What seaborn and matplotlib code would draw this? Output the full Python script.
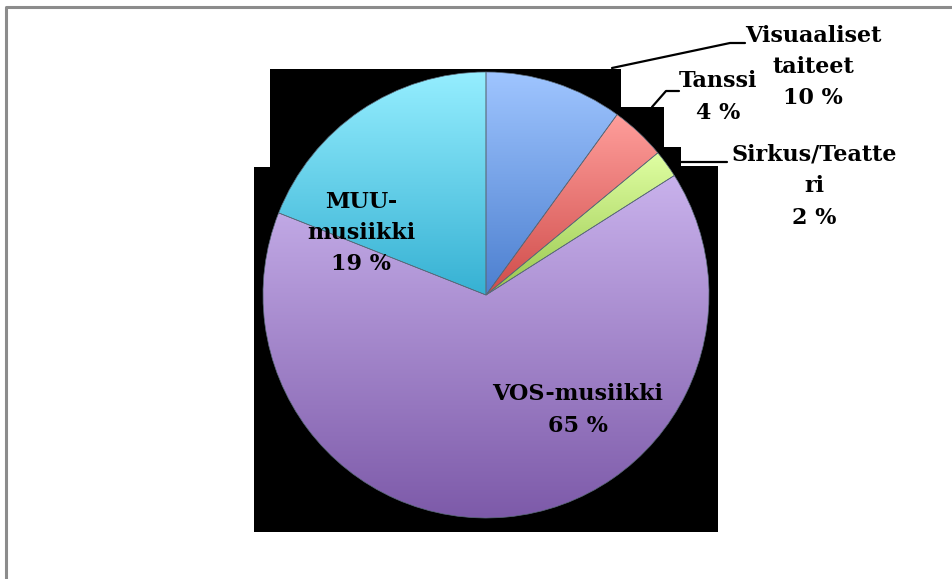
import matplotlib
matplotlib.use("Agg")
import matplotlib.pyplot as plt
import seaborn as sns
import numpy as np

# data
categories = ["Visuaaliset taiteet", "Tanssi", "Sirkus/Teatteri", "VOS-musiikki", "MUU-musiikki"]
shares = [10, 4, 2, 65, 19]
label_texts = ["Visuaaliset\ntaiteet\n10 %", "Tanssi\n4 %", "Sirkus/Teatte\nri\n2 %",
               "VOS-musiikki\n65 %", "MUU-\nmusiikki\n19 %"]
# gradient colours for each slice (top, bottom)
top_colors = ["#9fc5ff", "#ff9e9b", "#e0ffa3", "#c9b2ec", "#95eeff"]
bottom_colors = ["#4c7fcf", "#cf4c4a", "#98c64d", "#7d5aa9", "#36b1d3"]

sns.set_theme(style="white")
plt.rcParams["font.family"] = ["DejaVu Serif", "DejaVu Sans"]

W, H = 953, 579
fig = plt.figure(figsize=(W / 100, H / 100), dpi=100)
ax = fig.add_axes([0, 0, 1, 1])


def fy(y):
    # image row -> matplotlib y
    return H - y


# frame of the chart area (only left and top are visible)
ax.plot([6, 6, W], [0, fy(7), fy(7)], color="#8c8c8c", lw=2.2, solid_capstyle="butt", zorder=1)

# black backdrop behind the pie
back = [(270, 69), (621, 69), (621, 107), (664, 107), (664, 147), (681, 147),
        (681, 166), (718, 166), (718, 532), (254, 532), (254, 167), (270, 167)]
ax.add_patch(plt.Polygon([(x, fy(y)) for x, y in back], closed=True,
                         facecolor="black", edgecolor="none", zorder=2))

# pie
cx, cy, r = 486, fy(295), 223
wedges, _ = ax.pie(shares, startangle=90, counterclock=False, center=(cx, cy), radius=r,
                   wedgeprops=dict(edgecolor="#5a6a7a", linewidth=0.5, zorder=3),
                   frame=True)
grad = np.linspace(0, 1, 256).reshape(-1, 1)
for w, top, bot in zip(wedges, top_colors, bottom_colors):
    cmap = sns.blend_palette([bot, top], as_cmap=True)
    bb = w.get_path().get_extents()
    im = ax.imshow(grad, cmap=cmap, origin="lower", aspect="auto",
                   extent=[bb.x0, bb.x1, bb.y0, bb.y1], zorder=3, interpolation="bilinear")
    im.set_clip_path(w)
    w.set_facecolor("none")
    w.set_zorder(4)

ax.set_xlim(0, W)
ax.set_ylim(0, H)
ax.set_aspect("auto")
ax.axis("off")

# labels, one text per line so the boxes stay apart
label_pos = [(813, 67), (718, 97), (814, 186), (578, 410), (361, 233)]
line_step = 31.5
for txt, (x, y) in zip(label_texts, label_pos):
    lines = txt.split("\n")
    n = len(lines)
    for i, line in enumerate(lines):
        ly = y + (i - (n - 1) / 2) * line_step
        ax.text(x, fy(ly), line, ha="center", va="center", fontsize=16, fontweight="bold",
                color="black", zorder=6)

# leader lines
leaders = [[(612, 68), (730, 43), (745, 43)],
           [(652, 107), (666, 91), (679, 91)],
           [(681, 162), (727, 162)]]
for pts in leaders:
    ax.plot([p[0] for p in pts], [fy(p[1]) for p in pts], color="black", lw=1.6, zorder=5)

fig.savefig("out.png", dpi=100)
